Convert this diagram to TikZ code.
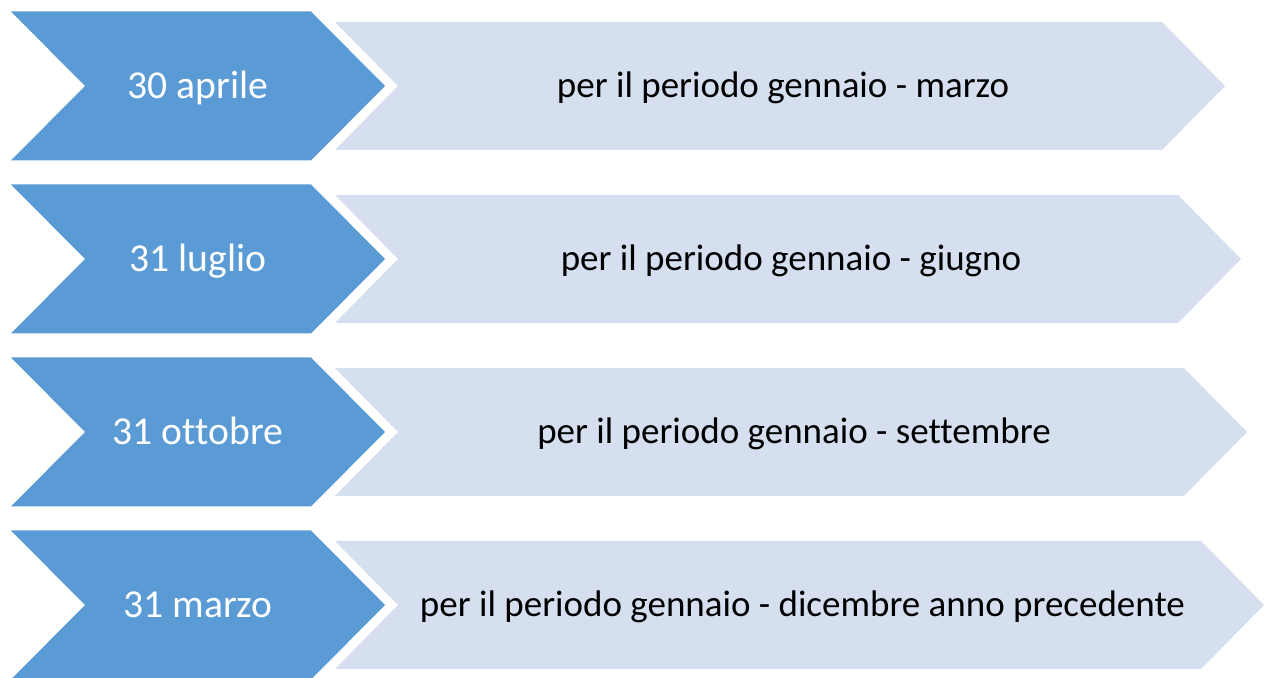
\documentclass[tikz,border=0pt]{standalone}
\usepackage{fontspec}
\setmainfont[Ligatures=NoCommon]{Carlito}
\definecolor{scadenza}{RGB}{91,155,213}
\definecolor{periodo}{RGB}{213,223,239}
\begin{document}
\begin{tikzpicture}[x=0.5pt,y=-0.5pt,line join=miter]
				\useasboundingbox (0,0) rectangle (1266,678);
				\tikzset{data/.style={text=white,font=\fontsize{19.8}{22}\selectfont,anchor=base},
					testo/.style={text=black,font=\fontsize{18.5}{22}\selectfont,anchor=base}}
				\def\h{74.5}\def\k{64}
				\foreach \i/\d/\p/\r in{0/30 aprile/marzo/1225,1/31 luglio/giugno/1241,2/31 ottobre/settembre/1247,3/31 marzo/dicembre anno precedente/1264}{
					\pgfmathsetmacro\c{86+173*\i}
					\fill[periodo] (335,\c-\k) -- (\r-63,\c-\k) -- (\r,\c) -- (\r-63,\c+\k) -- (335,\c+\k) -- (398,\c) -- cycle;
					\fill[scadenza] (11,\c-\h) -- (311,\c-\h) -- (385,\c) -- (311,\c+\h) -- (11,\c+\h) -- (85,\c) -- cycle;
					\node[data] (d\i) at (198,\c+13) {\d};
					\node[testo] (p\i) at ({(335+\r)/2+3},\c+12) {per il periodo gennaio - \p};}
			\end{tikzpicture}
\end{document}
